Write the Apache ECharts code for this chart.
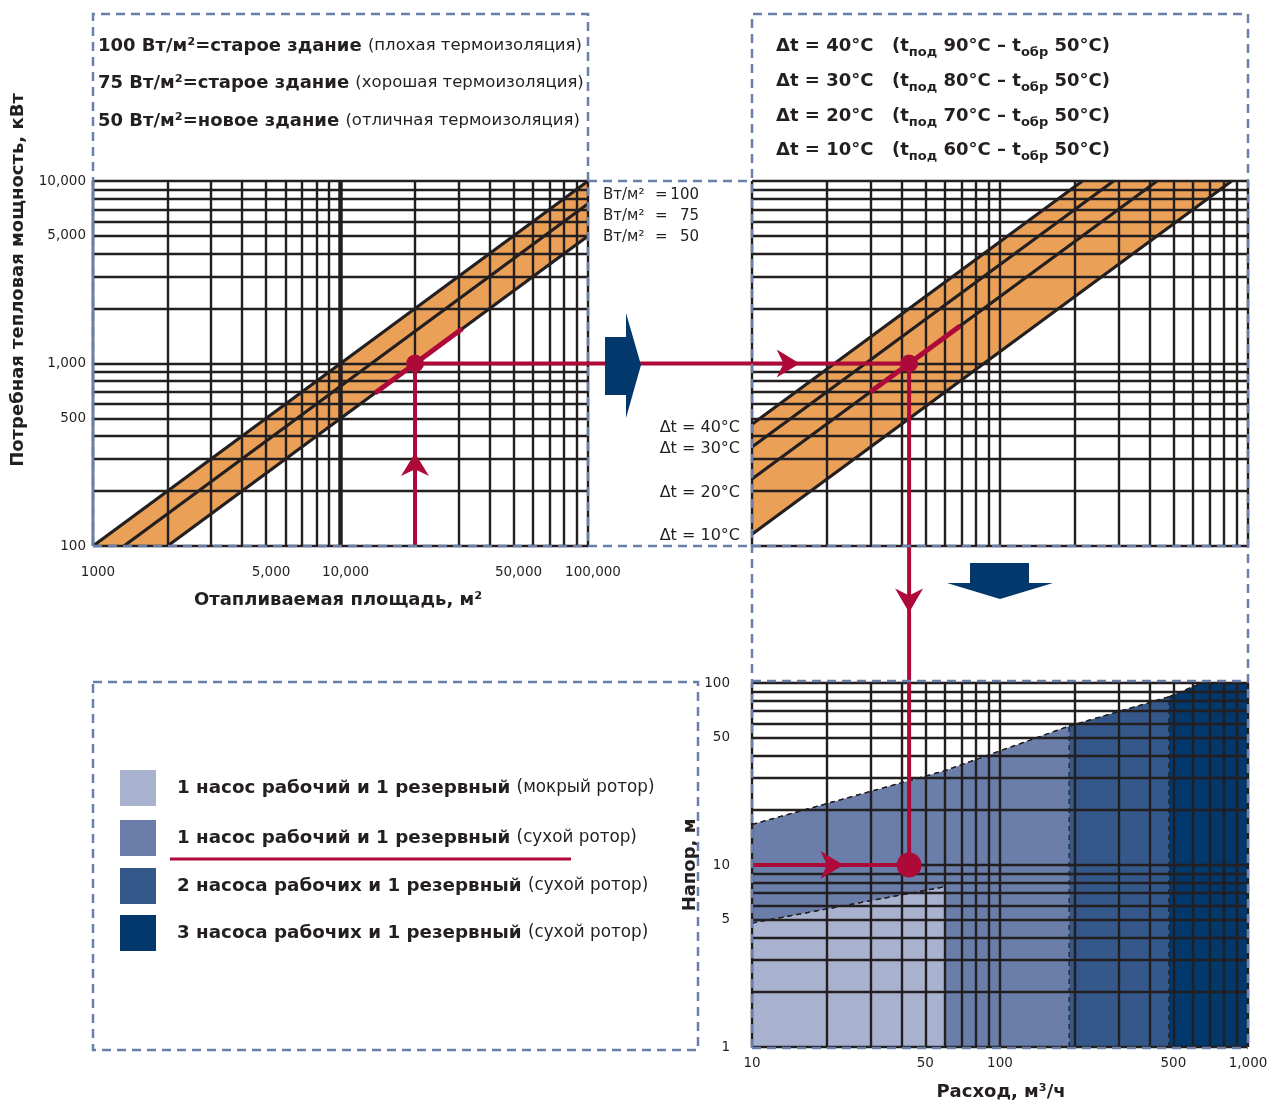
<!DOCTYPE html>
<html><head><meta charset="utf-8">
<script src="https://cdn.jsdelivr.net/npm/echarts@6/dist/echarts.min.js"></script>
<style>html,body{margin:0;padding:0;background:#fff}#c{width:1282px;height:1104px}</style>
</head><body><div id="c"></div>
<script>
// ================= DATA =================
// tick labels
const areaLabelValues = [1000, 5000, 10000, 50000, 100000];
const areaLabelTexts = ['1000', '5,000', '10,000', '50,000', '100,000'];
const powerLabelValues = [100, 500, 1000, 5000, 10000];
const powerLabelTexts = ['100', '500', '1,000', '5,000', '10,000'];
const flowLabelValues = [10, 50, 100, 500, 1000];
const flowLabelTexts = ['10', '50', '100', '500', '1,000'];
const headLabelValues = [1, 5, 10, 50, 100];
const headLabelTexts = ['1', '5', '10', '50', '100'];

// log grid lines
const areaGridLines = [1000, 2000, 3000, 4000, 5000, 6000, 7000, 8000, 9000, 10000, 20000, 30000, 40000, 50000, 60000, 70000, 80000, 90000, 100000];
const powerGridLines = [100, 200, 300, 400, 500, 600, 700, 800, 900, 1000, 2000, 3000, 4000, 5000, 6000, 7000, 8000, 9000, 10000];
const flowGridLines = [10, 20, 30, 40, 50, 60, 70, 80, 90, 100, 200, 300, 400, 500, 600, 700, 800, 900, 1000];
const headGridLines = [1, 2, 3, 4, 5, 6, 7, 8, 9, 10, 20, 30, 40, 50, 60, 70, 80, 90, 100];

// specific heat load lines (area m2, power kW)
const loadNames = ['100', '75', '50'];
const load100 = [[1000, 100], [100000, 10000]];
const load75 = [[1333, 100], [100000, 7500]];
const load50 = [[2000, 100], [100000, 5000]];

// temperature difference lines (flow m3/h, power kW)
const dtNames = ['40', '30', '20', '10'];
const dt40 = [[10, 465], [215, 10000]];
const dt30 = [[10, 349], [287, 10000]];
const dt20 = [[10, 233], [430, 10000]];
const dt10 = [[10, 116], [860, 10000]];

// pump zones (flow m3/h, head m) – upper boundaries
const zoneNames = ['1 насос рабочий и 1 резервный', '1 насос рабочий и 1 резервный', '2 насоса рабочих и 1 резервный', '3 насоса рабочих и 1 резервный'];
const zoneNotes = ['(мокрый ротор)', '(сухой ротор)', '(сухой ротор)', '(сухой ротор)'];
const wetRotorTop = [[10, 4.8], [60, 7.6]];
const dry1Top = [[10, 16.7], [60, 33], [190, 58]];
const dry2Top = [[190, 58], [480, 84]];
const dry3Top = [[480, 84], [650, 100], [1000, 100]];
const zoneSplits = [[[60, 1], [60, 7.6]], [[190, 1], [190, 58]], [[480, 1], [480, 84]]];

// worked example
const exampleArea = 20000, examplePower = 1000, exampleFlow = 43, exampleHead = 10;
const exampleLoadSegment = [[13800, 690], [31000, 1550]];
const exampleDtSegment = [[30, 698], [69, 1605]];
const arrowUpAt = [20000, 280];
const arrowRightTopAt = [14, 1000];
const arrowRightBottomAt = [21, 10];

// ================= STYLE =================
const FONT = '"DejaVu Sans", "Liberation Sans", Arial, sans-serif';
const INK = '#231f20', RED = '#ad0a3a', ORANGE = '#eaa057', FRAME = '#6a7faa', NAVY = '#02386b';
const zoneColors = ['#a8b2cf', '#6a7ea9', '#34588a', '#02386b'];
const ARROW_UP = 'path://M15,0 L30,24 L15,17 L0,24 Z';
const ARROW_RIGHT = 'path://M24,15 L0,0 L7,15 L0,30 Z';

const chart = echarts.init(document.getElementById('c'));

function logAxis(g, min, max) {
  return {type: 'log', logBase: 10, gridIndex: g, min: min, max: max,
    axisLine: {show: false}, axisTick: {show: false}, axisLabel: {show: false},
    splitLine: {show: false}, minorTick: {show: false}, minorSplitLine: {show: false}};
}
function gridLines(i, xs, ys, thickX) {
  const d = [];
  xs.forEach(v => {
    if (v === thickX) d.push({xAxis: v, lineStyle: {color: INK, width: 4.5, type: 'solid'}});
    else d.push({xAxis: v});
  });
  ys.forEach(v => d.push({yAxis: v}));
  return {type: 'line', xAxisIndex: i, yAxisIndex: i, data: [], z: 3, silent: true, animation: false,
    markLine: {silent: true, animation: false, symbol: ['none', 'none'], label: {show: false},
      emphasis: {disabled: true}, lineStyle: {color: INK, width: 2.4, type: 'solid'}, data: d}};
}
function polyLine(i, data, color, width, z, dashed) {
  return {type: 'line', xAxisIndex: i, yAxisIndex: i, data: data, symbol: 'none', silent: true,
    animation: false, z: z, lineStyle: {color: color, width: width, type: dashed ? [5, 4] : 'solid'}};
}
function band(i, pts) {
  return {type: 'custom', xAxisIndex: i, yAxisIndex: i, z: 1, silent: true, animation: false,
    data: [pts[0]],
    renderItem: (p, api) => ({type: 'polygon', shape: {points: pts.map(q => api.coord(q))},
      style: {fill: ORANGE}})};
}
function zone(data, color) {
  return {type: 'line', xAxisIndex: 2, yAxisIndex: 2, data: data, symbol: 'none', silent: true,
    animation: false, z: 1, lineStyle: {color: INK, width: 1.3, type: [5, 4]},
    areaStyle: {color: color, opacity: 1, origin: 'start'}};
}
function dot(i, pt, size) {
  return {type: 'scatter', xAxisIndex: i, yAxisIndex: i, data: [pt], symbolSize: size, silent: true,
    animation: false, z: 8, itemStyle: {color: RED, opacity: 1}};
}
function arrow(i, pt, sym, size) {
  return {type: 'scatter', xAxisIndex: i, yAxisIndex: i, data: [pt], symbol: sym, symbolSize: size,
    symbolKeepAspect: false, silent: true, animation: false, z: 8, itemStyle: {color: RED, opacity: 1}};
}

const series = [
  band(0, [load100[0], load100[1], load50[1], load50[0]]),
  band(1, [dt40[0], dt40[1], dt10[1], dt10[0]]),
  zone(dry1Top, zoneColors[1]),
  zone(dry2Top, zoneColors[2]),
  zone(dry3Top, zoneColors[3]),
  zone(wetRotorTop, zoneColors[0]),
  gridLines(0, areaGridLines, powerGridLines, 10000),
  gridLines(1, flowGridLines, powerGridLines, null),
  gridLines(2, flowGridLines, headGridLines, null),
  polyLine(0, load100, INK, 3.2, 4), polyLine(0, load75, INK, 3.2, 4), polyLine(0, load50, INK, 3.2, 4),
  polyLine(1, dt40, INK, 3.2, 4), polyLine(1, dt30, INK, 3.2, 4), polyLine(1, dt20, INK, 3.2, 4), polyLine(1, dt10, INK, 3.2, 4),
  polyLine(2, wetRotorTop, INK, 1.3, 5, true), polyLine(2, dry1Top, INK, 1.3, 5, true),
  polyLine(2, dry2Top, INK, 1.3, 5, true), polyLine(2, dry3Top, INK, 1.3, 5, true),
  ...zoneSplits.map(s => polyLine(2, s, INK, 1.3, 5, true)),
  // worked example path
  polyLine(0, [[exampleArea, 100], [exampleArea, examplePower], [100000, examplePower]], RED, 4, 6),
  polyLine(0, exampleLoadSegment, RED, 5, 6),
  polyLine(1, [[10, examplePower], [exampleFlow, examplePower], [exampleFlow, 100]], RED, 4, 6),
  polyLine(1, exampleDtSegment, RED, 5, 6),
  polyLine(2, [[exampleFlow, 100], [exampleFlow, exampleHead]], RED, 4, 6),
  polyLine(2, [[10, exampleHead], [exampleFlow, exampleHead]], RED, 4, 6),
  dot(0, [exampleArea, examplePower], 18),
  dot(1, [exampleFlow, examplePower], 18),
  dot(2, [exampleFlow, exampleHead], 25),
  arrow(0, arrowUpAt, ARROW_UP, [28, 23]),
  arrow(1, arrowRightTopAt, ARROW_RIGHT, [23, 28]),
  arrow(2, arrowRightBottomAt, ARROW_RIGHT, [23, 28])
];

chart.setOption({
  animation: false,
  backgroundColor: '#fff',
  grid: [
    {left: 93, top: 181, width: 495, height: 365},
    {left: 752, top: 181, width: 496, height: 365},
    {left: 752, top: 683, width: 496, height: 364}
  ],
  xAxis: [logAxis(0, 1000, 100000), logAxis(1, 10, 1000), logAxis(2, 10, 1000)],
  yAxis: [logAxis(0, 100, 10000), logAxis(1, 100, 10000), logAxis(2, 1, 100)],
  series: series
});

// ================= GRAPHIC (labels, frames, connectors) =================
const G = [];
const Z = 100;
function txt(x, y, text, align, size, weight, extra) {
  return {type: 'text', x: x, y: y, z: Z, silent: true,
    style: Object.assign({text: text, fill: INK, font: (weight || 'normal') + ' ' + size + 'px ' + FONT,
      textAlign: align || 'left', textVerticalAlign: 'middle'}, extra || {})};
}
function dline(x1, y1, x2, y2) {
  return {type: 'line', z: Z + 1, silent: true, shape: {x1, y1, x2, y2},
    style: {stroke: FRAME, lineWidth: 2.5, lineDash: [9, 6]}};
}
function dpoly(pts) {
  return {type: 'polyline', z: Z + 1, silent: true, shape: {points: pts},
    style: {stroke: FRAME, lineWidth: 2.5, lineDash: [9, 6], fill: null}};
}

// tick labels through the axes
areaLabelValues.forEach((v, i) => G.push(txt(chart.convertToPixel({xAxisIndex: 0}, v) + 5, 572, areaLabelTexts[i], 'center', 13.5)));
powerLabelValues.forEach((v, i) => G.push(txt(86, chart.convertToPixel({yAxisIndex: 0}, v), powerLabelTexts[i], 'right', 13.5)));
flowLabelValues.forEach((v, i) => G.push(txt(chart.convertToPixel({xAxisIndex: 2}, v), 1063, flowLabelTexts[i], 'center', 13.5)));
headLabelValues.forEach((v, i) => G.push(txt(730, chart.convertToPixel({yAxisIndex: 2}, v), headLabelTexts[i], 'right', 13.5)));

// axis titles
G.push(Object.assign(txt(0, 0, 'Потребная тепловая мощность, кВт', 'center', 18, 'bold'), {x: 18, y: 280, rotation: Math.PI / 2}));
G.push(txt(338, 600, 'Отапливаемая площадь, м²', 'center', 18, 'bold'));
G.push(Object.assign(txt(0, 0, 'Напор, м', 'center', 18, 'bold'), {x: 690, y: 865, rotation: Math.PI / 2}));
G.push(txt(1001, 1092, 'Расход, м³/ч', 'center', 18, 'bold'));

// top-left explanation
const bold18 = {fontSize: 18, fontWeight: 'bold', fontFamily: FONT, fill: INK};
const reg16 = {fontSize: 16.5, fontWeight: 'normal', fontFamily: FONT, fill: INK};
const loadTexts = [['100 Вт/м²=старое здание', '(плохая термоизоляция)'], ['75 Вт/м²=старое здание', '(хорошая термоизоляция)'], ['50 Вт/м²=новое здание', '(отличная термоизоляция)']];
[46, 83, 121].forEach((y, i) => G.push(txt(98, y, '{b|' + loadTexts[i][0] + '} {r|' + loadTexts[i][1] + '}', 'left', 18, 'bold', {rich: {b: bold18, r: reg16}})));

// top-right explanation
const supplyTemps = ['90', '80', '70', '60'];
const richDt = {b: {fontSize: 18, fontWeight: 'bold', fontFamily: FONT, fill: INK, lineHeight: 26, verticalAlign: 'middle'},
  s: {fontSize: 13, fontWeight: 'bold', fontFamily: FONT, fill: INK, lineHeight: 12, verticalAlign: 'bottom'}};
[46, 81, 116, 150].forEach((y, i) => {
  G.push(txt(776, y, '{b|Δt = ' + dtNames[i] + '°C}', 'left', 18, 'bold', {rich: richDt}));
  G.push(txt(892, y, '{b|(t}{s|под}{b| ' + supplyTemps[i] + '°C – t}{s|обр}{b| 50°C)}', 'left', 18, 'bold', {rich: richDt}));
});

// side labels
const wY = [195, 216, 237];
loadNames.forEach((n, i) => {
  G.push(txt(603, wY[i], 'Вт/м²', 'left', 15));
  G.push(txt(655, wY[i], '=', 'left', 15));
  G.push(txt(699, wY[i], n, 'right', 15));
});
const dtY = [428, 449, 493, 536];
dtNames.forEach((n, i) => G.push(txt(740, dtY[i], 'Δt = ' + n + '°C', 'right', 16)));

// legend
const legY = [788, 838, 886, 933];
zoneNames.forEach((n, i) => {
  G.push({type: 'rect', z: Z, silent: true, shape: {x: 120, y: legY[i] - 18, width: 36, height: 36}, style: {fill: zoneColors[i]}});
  G.push(txt(177, legY[i], '{b|' + n + '} {r|' + zoneNotes[i] + '}', 'left', 18, 'bold',
    {rich: {b: {fontSize: 18.3, fontWeight: 'bold', fontFamily: FONT, fill: INK}, r: {fontSize: 16.8, fontFamily: FONT, fill: INK}}}));
});
G.push({type: 'line', z: Z, silent: true, shape: {x1: 170, y1: 859, x2: 571, y2: 859}, style: {stroke: RED, lineWidth: 3}});

// red connectors between the charts
const pA = chart.convertToPixel({gridIndex: 0}, [100000, examplePower]);
const pB = chart.convertToPixel({gridIndex: 1}, [10, examplePower]);
const pC = chart.convertToPixel({gridIndex: 1}, [exampleFlow, 100]);
const pD = chart.convertToPixel({gridIndex: 2}, [exampleFlow, 100]);
G.push({type: 'line', z: Z - 5, silent: true, shape: {x1: pA[0], y1: pA[1], x2: pB[0], y2: pB[1]}, style: {stroke: RED, lineWidth: 4}});
G.push({type: 'line', z: Z - 5, silent: true, shape: {x1: pC[0], y1: pC[1], x2: pD[0], y2: pD[1]}, style: {stroke: RED, lineWidth: 4}});
const ty = (pC[1] + pD[1]) / 2 - 2, tx = pC[0];
G.push({type: 'polygon', z: Z - 4, silent: true, shape: {points: [[tx, ty], [tx - 14, ty - 24], [tx, ty - 17], [tx + 14, ty - 24]]}, style: {fill: RED}});

// dashed frames
G.push({type: 'line', z: Z, silent: true, shape: {x1: 93, y1: 181, x2: 93, y2: 546}, style: {stroke: FRAME, lineWidth: 2.5}});
G.push(dpoly([[93, 546], [93, 14], [588, 14], [588, 546]]));
G.push(dline(93, 546, 752, 546));
G.push(dline(588, 181, 752, 181));
G.push(dpoly([[752, 1048], [752, 14], [1248, 14], [1248, 1048]]));
G.push(dline(752, 546, 1248, 546));
G.push(dline(752, 681, 1248, 681));
G.push(dline(752, 1048, 1248, 1048));
G.push(dpoly([[93, 682], [698, 682], [698, 1050], [93, 1050], [93, 682]]));

// big navy arrows
G.push({type: 'polygon', z: Z + 2, silent: true, shape: {points: [[605, 337], [626, 337], [626, 313], [641, 365], [626, 418], [626, 395], [605, 395]]}, style: {fill: NAVY}});
G.push({type: 'polygon', z: Z + 2, silent: true, shape: {points: [[970, 563], [1029, 563], [1029, 583], [1053, 583], [1000, 599], [947, 583], [970, 583]]}, style: {fill: NAVY}});

chart.setOption({graphic: {elements: G}});
</script></body></html>
